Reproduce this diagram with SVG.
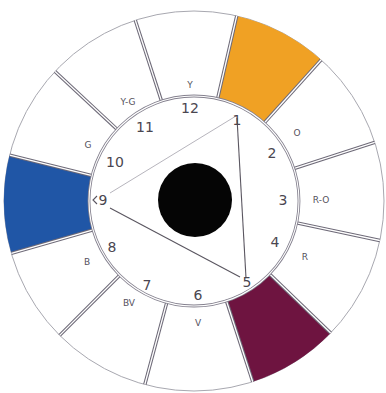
<svg xmlns="http://www.w3.org/2000/svg" width="386" height="393" viewBox="0 0 386 393">
<style>
.outer{fill:none;stroke:#a8a8b0;stroke-width:1}
.dv{stroke:#6e6a78;stroke-width:3.4;fill:none}
.dvw{stroke:#ffffff;stroke-width:1.3;fill:none}
.ring{fill:none;stroke:#84808e;stroke-width:2.8}
.ringw{fill:none;stroke:#ffffff;stroke-width:1.1}
.tri{stroke:#5a5660;stroke-width:1.1;fill:none}
.num{font-family:"DejaVu Sans",sans-serif;font-size:14px;fill:#4a4650;text-anchor:middle;dominant-baseline:central}
.lab{font-family:"DejaVu Sans",sans-serif;font-size:9px;fill:#55515c;text-anchor:middle;dominant-baseline:central}
</style>
<rect width="386" height="393" fill="#ffffff"/>
<g id="wheel">
<circle class="outer" cx="194" cy="201" r="190"/>
<path id="seg-orange" fill="#f0a124" d="M217.6,98.7 L236.75,15.9 A190,190 0 0 1 321.1,59.8 L264.3,123.0 A105,105 0 0 0 217.6,98.7 Z"/>
<path id="seg-purple" fill="#6e1440" d="M269.5,273.9 L330.7,333.0 A190,190 0 0 1 252.7,381.7 L226.4,300.9 A105,105 0 0 0 269.5,273.9 Z"/>
<path id="seg-blue" fill="#2056a6" d="M93.1,229.9 L11.4,253.4 A190,190 0 0 1 9.6,155.0 L92.1,175.6 A105,105 0 0 0 93.1,229.9 Z"/>
</g>
<g id="dividers">
<g class="dv">
<line x1="194" y1="96" x2="194" y2="11" transform="rotate(342 194 201)"/>
<line x1="194" y1="96" x2="194" y2="11" transform="rotate(13 194 201)"/>
<line x1="194" y1="96" x2="194" y2="11" transform="rotate(42 194 201)"/>
<line x1="194" y1="96" x2="194" y2="11" transform="rotate(72 194 201)"/>
<line x1="194" y1="96" x2="194" y2="11" transform="rotate(102 194 201)"/>
<line x1="194" y1="96" x2="194" y2="11" transform="rotate(134 194 201)"/>
<line x1="194" y1="96" x2="194" y2="11" transform="rotate(162 194 201)"/>
<line x1="194" y1="96" x2="194" y2="11" transform="rotate(195 194 201)"/>
<line x1="194" y1="96" x2="194" y2="11" transform="rotate(225 194 201)"/>
<line x1="194" y1="96" x2="194" y2="11" transform="rotate(254 194 201)"/>
<line x1="194" y1="96" x2="194" y2="11" transform="rotate(284 194 201)"/>
<line x1="194" y1="96" x2="194" y2="11" transform="rotate(313 194 201)"/>
</g>
<g class="dvw">
<line x1="194" y1="97" x2="194" y2="11" transform="rotate(342 194 201)"/>
<line x1="194" y1="97" x2="194" y2="11" transform="rotate(13 194 201)"/>
<line x1="194" y1="97" x2="194" y2="11" transform="rotate(42 194 201)"/>
<line x1="194" y1="97" x2="194" y2="11" transform="rotate(72 194 201)"/>
<line x1="194" y1="97" x2="194" y2="11" transform="rotate(102 194 201)"/>
<line x1="194" y1="97" x2="194" y2="11" transform="rotate(134 194 201)"/>
<line x1="194" y1="97" x2="194" y2="11" transform="rotate(162 194 201)"/>
<line x1="194" y1="97" x2="194" y2="11" transform="rotate(195 194 201)"/>
<line x1="194" y1="97" x2="194" y2="11" transform="rotate(225 194 201)"/>
<line x1="194" y1="97" x2="194" y2="11" transform="rotate(254 194 201)"/>
<line x1="194" y1="97" x2="194" y2="11" transform="rotate(284 194 201)"/>
<line x1="194" y1="97" x2="194" y2="11" transform="rotate(313 194 201)"/>
</g>
</g>
<g id="inner-ring">
<circle class="ring" cx="194" cy="201" r="105"/>
<circle class="ringw" cx="194" cy="201" r="105"/>
</g>
<g id="triangle">
<line class="tri" x1="237" y1="118" x2="246" y2="278"/>
<line class="tri" x1="110" y1="208" x2="240" y2="277"/>
<line class="tri" x1="110" y1="193" x2="236" y2="116" style="stroke:#aeabb4;stroke-width:0.9"/>
<polyline class="tri" points="97,196 93,200 97,204"/>
</g>
<g id="center-disc">
<circle cx="195" cy="200" r="37" fill="#050505"/>
</g>
<g id="numbers">
<text class="num" x="237" y="120">1</text>
<text class="num" x="272" y="153">2</text>
<text class="num" x="283" y="200">3</text>
<text class="num" x="275" y="242">4</text>
<text class="num" x="247" y="282">5</text>
<text class="num" x="198" y="295">6</text>
<text class="num" x="147" y="285">7</text>
<text class="num" x="112" y="247">8</text>
<text class="num" x="103" y="200">9</text>
<text class="num" x="115" y="162">10</text>
<text class="num" x="145" y="127">11</text>
<text class="num" x="190" y="108">12</text>
</g>
<g id="labels">
<text class="lab" x="190" y="85">Y</text>
<text class="lab" x="297" y="133">O</text>
<text class="lab" x="321" y="200">R-O</text>
<text class="lab" x="305" y="257">R</text>
<text class="lab" x="198" y="323">V</text>
<text class="lab" x="129" y="303">BV</text>
<text class="lab" x="87" y="262">B</text>
<text class="lab" x="88" y="145">G</text>
<text class="lab" x="128" y="102">Y-G</text>
</g>
</svg>
